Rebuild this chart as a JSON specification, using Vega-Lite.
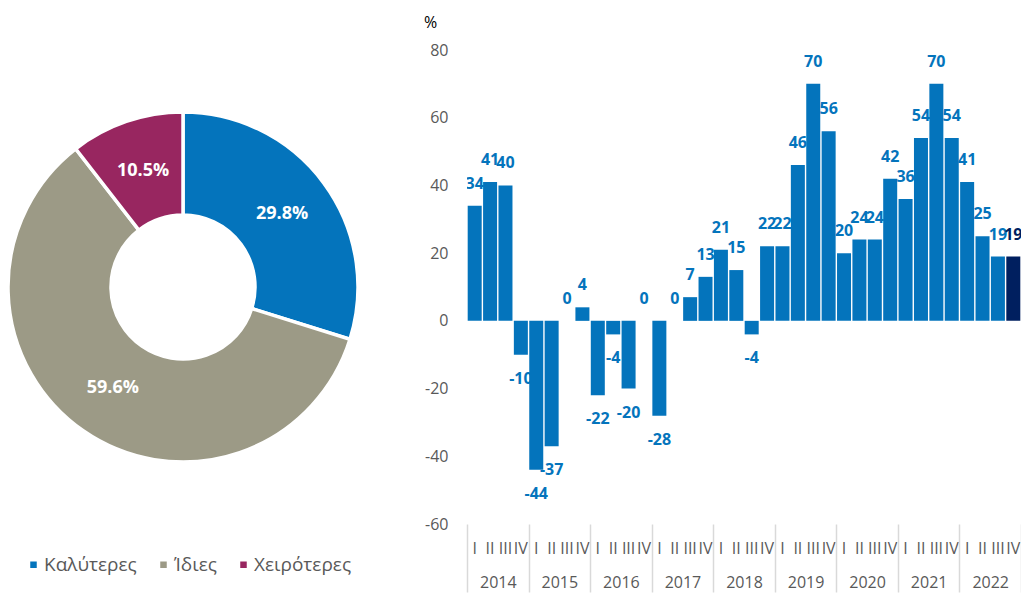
{
  "$schema": "https://vega.github.io/schema/vega-lite/v6.json",
  "padding": {"left": 0, "top": 14, "right": 0, "bottom": 0},
  "background": "white",
  "config": {"font": "Open Sans", "view": {"stroke": null}, "concat": {"spacing": 57}},
  "hconcat": [
    {
      "width": 366,
      "height": 474,
      "data": {"values": [
        {"cat": "Καλύτερες", "value": 29.8, "rank": 1},
        {"cat": "Ίδιες", "value": 59.6, "rank": 2},
        {"cat": "Χειρότερες", "value": 10.5, "rank": 3}
      ]},
      "transform": [{"calculate": "format(datum.value, '.1f') + '%'", "as": "label"}],
      "encoding": {
        "theta": {"field": "value", "type": "quantitative", "stack": true},
        "order": {"field": "rank", "type": "quantitative"}
      },
      "layer": [
        {
          "mark": {"type": "arc", "outerRadius": 175, "innerRadius": 72, "stroke": "white", "strokeWidth": 3.5},
          "encoding": {
            "color": {
              "field": "cat", "type": "nominal", "sort": null,
              "scale": {"domain": ["Καλύτερες", "Ίδιες", "Χειρότερες"], "range": ["#0474bc", "#9c9a86", "#982660"]},
              "legend": {"orient": "none", "legendX": 24, "legendY": 505, "direction": "horizontal", "columns": 3, "title": null,
                "symbolType": "square", "symbolSize": 64, "labelFontSize": 19, "labelColor": "#595959", "columnPadding": 17, "labelOffset": 1}
            }
          }
        },
        {
          "mark": {"type": "text", "radius": 123, "fontSize": 18, "fontWeight": "bold"},
          "encoding": {"text": {"field": "label"}, "color": {"value": "white"}}
        }
      ]
    },
    {
      "width": 554,
      "height": 474,
      "data": {"values": [
        {"q": "2014-I", "year": "2014", "value": 34},
        {"q": "2014-II", "year": "2014", "value": 41},
        {"q": "2014-III", "year": "2014", "value": 40},
        {"q": "2014-IV", "year": "2014", "value": -10},
        {"q": "2015-I", "year": "2015", "value": -44},
        {"q": "2015-II", "year": "2015", "value": -37},
        {"q": "2015-III", "year": "2015", "value": 0},
        {"q": "2015-IV", "year": "2015", "value": 4},
        {"q": "2016-I", "year": "2016", "value": -22},
        {"q": "2016-II", "year": "2016", "value": -4},
        {"q": "2016-III", "year": "2016", "value": -20},
        {"q": "2016-IV", "year": "2016", "value": 0},
        {"q": "2017-I", "year": "2017", "value": -28},
        {"q": "2017-II", "year": "2017", "value": 0},
        {"q": "2017-III", "year": "2017", "value": 7},
        {"q": "2017-IV", "year": "2017", "value": 13},
        {"q": "2018-I", "year": "2018", "value": 21},
        {"q": "2018-II", "year": "2018", "value": 15},
        {"q": "2018-III", "year": "2018", "value": -4},
        {"q": "2018-IV", "year": "2018", "value": 22},
        {"q": "2019-I", "year": "2019", "value": 22},
        {"q": "2019-II", "year": "2019", "value": 46},
        {"q": "2019-III", "year": "2019", "value": 70},
        {"q": "2019-IV", "year": "2019", "value": 56},
        {"q": "2020-I", "year": "2020", "value": 20},
        {"q": "2020-II", "year": "2020", "value": 24},
        {"q": "2020-III", "year": "2020", "value": 24},
        {"q": "2020-IV", "year": "2020", "value": 42},
        {"q": "2021-I", "year": "2021", "value": 36},
        {"q": "2021-II", "year": "2021", "value": 54},
        {"q": "2021-III", "year": "2021", "value": 70},
        {"q": "2021-IV", "year": "2021", "value": 54},
        {"q": "2022-I", "year": "2022", "value": 41},
        {"q": "2022-II", "year": "2022", "value": 25},
        {"q": "2022-III", "year": "2022", "value": 19},
        {"q": "2022-IV", "year": "2022", "value": 19}
      ]},
      "layer": [
        {
          "transform": [{"calculate": "'' + datum.value", "as": "lbl"}],
          "encoding": {
            "x": {"field": "q", "type": "nominal", "sort": null,
              "scale": {"type": "band", "paddingInner": 0.09, "paddingOuter": 0.045},
              "axis": {"title": null, "domain": false, "ticks": false, "labelPadding": 16, "labelAngle": 0,
                "labelFontSize": 16, "labelColor": "#595959", "labelExpr": "split(datum.label, '-')[1]"}},
            "y": {"field": "value", "type": "quantitative",
              "scale": {"domain": [-60, 80], "nice": false, "zero": true},
              "axis": {"title": "%", "titleAngle": 0, "titleX": -37, "titleY": -28, "titleAlign": "center", "titleBaseline": "middle",
                "titleFontSize": 16, "titleFontWeight": "normal", "titleColor": "#000000",
                "domain": false, "ticks": false, "grid": false, "labelPadding": 19, "labelFontSize": 16, "labelColor": "#595959",
                "values": [-60, -40, -20, 0, 20, 40, 60, 80], "labelExpr": "'' + datum.value"}}
          },
          "layer": [
            {
              "mark": {"type": "bar"},
              "encoding": {
                "color": {"condition": {"test": "datum.q == '2022-IV'", "value": "#001f5f"}, "value": "#0474bc"}
              }
            },
            {
              "data": {"values": [{}]},
              "mark": {"type": "rule", "color": "#d9d9d9", "strokeWidth": 2},
              "encoding": {"x": null, "y": {"datum": 0}}
            },
            {
              "transform": [{"filter": "datum.value >= 0"}],
              "mark": {"type": "text", "dy": -22, "baseline": "middle", "fontSize": 16, "fontWeight": "bold", "clip": true},
              "encoding": {
                "text": {"field": "lbl"},
                "color": {"condition": {"test": "datum.q == '2022-IV'", "value": "#001f5f"}, "value": "#0474bc"}
              }
            },
            {
              "transform": [{"filter": "datum.value < 0"}],
              "mark": {"type": "text", "dy": 24, "baseline": "middle", "fontSize": 16, "fontWeight": "bold", "clip": true},
              "encoding": {
                "text": {"field": "lbl"},
                "color": {"value": "#0474bc"}
              }
            }
          ]
        },
        {
          "mark": {"type": "point", "opacity": 0},
          "encoding": {
            "x": {"field": "year", "type": "nominal", "sort": null,
              "scale": {"type": "band", "paddingInner": 0, "paddingOuter": 0},
              "axis": {"orient": "bottom", "title": null, "domain": false, "tickBand": "extent", "tickSize": 68,
                "tickColor": "#d9d9d9", "tickWidth": 1.5, "labelPadding": -18, "labelFontSize": 16, "labelColor": "#595959", "labelAngle": 0}},
            "y": {"datum": 0}
          }
        }
      ],
      "resolve": {"scale": {"x": "independent"}, "axis": {"x": "independent"}}
    }
  ]
}
